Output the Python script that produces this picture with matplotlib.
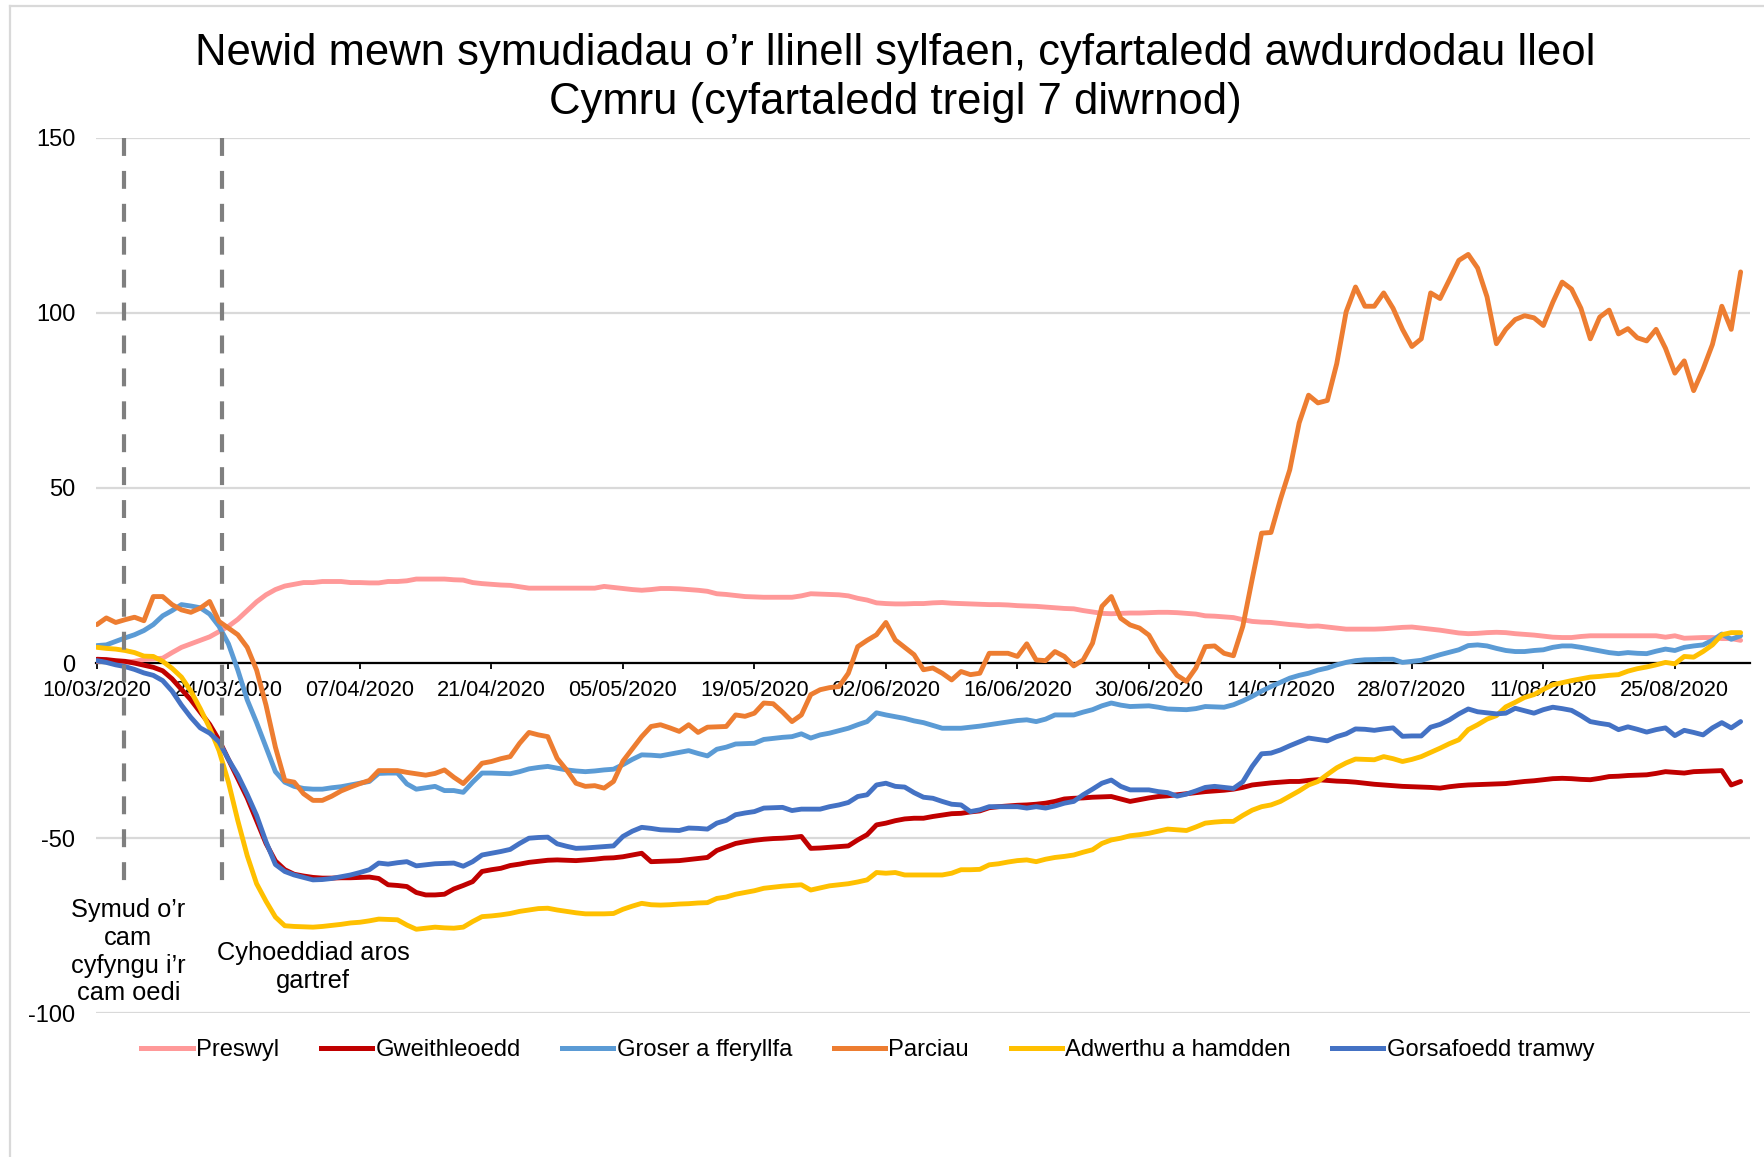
import pandas as pd
import matplotlib
matplotlib.use('Agg')
import matplotlib.pyplot as plt
import matplotlib.dates as mdates
from matplotlib.lines import Line2D

plt.rcParams['font.family'] = ['Liberation Sans', 'DejaVu Sans']
plt.rcParams['axes.unicode_minus'] = False

# ---------------- data ----------------
start_date = '2020-03-10'
n_days = 176
dates = pd.date_range(start_date, periods=n_days, freq='D')

series_names = ['Preswyl', 'Gweithleoedd', 'Groser a fferyllfa', 'Parciau',
                'Adwerthu a hamdden', 'Gorsafoedd tramwy']

preswyl = [
    0.5, 0.5, 0.3, 0.3, 0.5, 1.0, 1.2, 1.4, 3.0, 4.5,
    5.5, 6.5, 7.5, 9.0, 10.5, 12.5, 15.0, 17.5, 19.5, 21.0,
    22.0, 22.5, 23.0, 23.0, 23.3, 23.3, 23.3, 23.0, 23.0, 22.9,
    22.9, 23.3, 23.3, 23.5, 24.0, 24.0, 24.0, 24.0, 23.8, 23.7,
    23.0, 22.7, 22.5, 22.3, 22.2, 21.8, 21.4, 21.4, 21.4, 21.4,
    21.4, 21.4, 21.4, 21.4, 21.9, 21.6, 21.3, 21.0, 20.8, 21.0,
    21.3, 21.3, 21.2, 21.0, 20.8, 20.5, 19.8, 19.6, 19.3, 19.0,
    18.9, 18.8, 18.8, 18.8, 18.8, 19.2, 19.8, 19.7, 19.6, 19.5,
    19.2, 18.5, 18.0, 17.2, 17.0, 16.9, 16.9, 17.0, 17.0, 17.2,
    17.3, 17.1, 17.0, 16.9, 16.8, 16.7, 16.7, 16.6, 16.4, 16.3,
    16.2, 16.0, 15.8, 15.6, 15.5, 15.0, 14.6, 14.2, 14.1, 14.2,
    14.3, 14.3, 14.4, 14.5, 14.5, 14.4, 14.2, 14.0, 13.5, 13.4,
    13.2, 13.0, 12.4, 11.9, 11.7, 11.6, 11.3, 11.0, 10.8, 10.5,
    10.6, 10.3, 10.0, 9.7, 9.7, 9.7, 9.7, 9.8, 10.0, 10.2,
    10.3, 10.0, 9.7, 9.4, 9.0, 8.6, 8.4, 8.5, 8.7, 8.8,
    8.7, 8.4, 8.2, 8.0, 7.7, 7.4, 7.3, 7.3, 7.6, 7.8,
    7.8, 7.8, 7.8, 7.8, 7.8, 7.8, 7.8, 7.4, 7.8, 7.1,
    7.2, 7.3, 7.3, 7.0, 7.0, 6.5]

gweithleoedd = [
    1.1, 1.0, 0.7, 0.5, 0.0, -0.6, -1.2, -2.2, -4.5, -7.5,
    -10.5, -14.0, -17.5, -22.0, -27.5, -33.0, -38.5, -45.0, -51.5, -56.5,
    -59.0, -60.3, -60.8, -61.2, -61.4, -61.4, -61.3, -61.3, -61.2, -61.1,
    -61.5, -63.3, -63.5, -63.8, -65.5, -66.2, -66.2, -66.0, -64.5, -63.5,
    -62.4, -59.5, -59.0, -58.6, -57.8, -57.4, -56.9, -56.6, -56.3, -56.2,
    -56.3, -56.4, -56.2, -56.0, -55.7, -55.6, -55.3, -54.8, -54.3, -56.7,
    -56.6, -56.5, -56.4, -56.1, -55.8, -55.5, -53.5, -52.5, -51.5, -51.0,
    -50.6, -50.3, -50.1, -50.0, -49.8, -49.5, -52.9, -52.8, -52.6, -52.4,
    -52.2, -50.5, -49.0, -46.2, -45.7, -45.0, -44.5, -44.3, -44.3, -43.8,
    -43.4, -43.0, -42.9, -42.5, -42.2, -41.3, -41.0, -40.8, -40.6, -40.5,
    -40.3, -40.0, -39.5, -38.8, -38.6, -38.5, -38.3, -38.2, -38.1, -38.8,
    -39.5, -39.0, -38.5, -38.1, -37.9, -37.6, -37.3, -37.0, -36.7, -36.5,
    -36.3, -36.0, -35.5, -34.8, -34.5, -34.2, -34.0, -33.8, -33.8, -33.5,
    -33.3, -33.5, -33.7, -33.8, -34.0, -34.3, -34.6, -34.8, -35.0, -35.2,
    -35.3, -35.4, -35.5, -35.7, -35.3, -35.0, -34.8, -34.7, -34.6, -34.5,
    -34.4, -34.1, -33.8, -33.6, -33.3, -33.0, -32.9, -33.0, -33.2, -33.3,
    -32.9, -32.4, -32.3, -32.1, -32.0, -31.9, -31.5, -31.0, -31.2, -31.4,
    -31.0, -30.9, -30.8, -30.7, -34.8, -33.8]

groser = [
    5.0, 5.2, 6.2, 7.2, 8.1, 9.3, 11.0, 13.5, 15.0, 16.7,
    16.3, 15.8, 14.0, 10.5, 5.5, -2.0, -10.5, -17.0, -24.0, -31.0,
    -34.0, -35.2, -35.8, -36.0, -36.0, -35.6, -35.3, -34.8, -34.3, -33.8,
    -31.5, -31.4, -31.4, -34.5, -36.0, -35.6, -35.2, -36.4, -36.4, -36.9,
    -34.0, -31.4, -31.4, -31.5, -31.6, -31.0, -30.2, -29.8, -29.5, -30.0,
    -30.5, -30.8, -31.0, -30.8, -30.5, -30.3, -29.0, -27.5, -26.2, -26.3,
    -26.5, -26.0, -25.5, -25.0, -25.8, -26.5, -24.6, -24.0, -23.1, -23.0,
    -22.9, -21.8, -21.5, -21.2, -21.0, -20.2, -21.4, -20.5, -20.0, -19.3,
    -18.6, -17.6, -16.7, -14.2, -14.8, -15.3, -15.8, -16.5, -17.0, -17.8,
    -18.6, -18.6, -18.6, -18.3, -18.0, -17.6, -17.2, -16.8, -16.4, -16.2,
    -16.7, -16.0, -14.8, -14.8, -14.8, -14.0, -13.3, -12.2, -11.4, -12.0,
    -12.4, -12.3, -12.2, -12.6, -13.1, -13.2, -13.3, -13.0, -12.4, -12.5,
    -12.6, -11.9, -10.8, -9.5, -8.0, -6.7, -5.5, -4.3, -3.5, -2.9,
    -2.0, -1.4, -0.5, 0.2, 0.7, 0.95, 1.0, 1.1, 1.1, 0.2,
    0.5, 0.8, 1.6, 2.4, 3.1, 3.8, 5.0, 5.2, 4.9, 4.2,
    3.6, 3.3, 3.3, 3.6, 3.8, 4.5, 4.9, 4.9, 4.5, 4.0,
    3.5, 3.0, 2.7, 3.0, 2.8, 2.7, 3.4, 4.0, 3.6, 4.5,
    4.9, 5.2, 6.5, 8.3, 6.8, 7.8]

parciau = [
    11.0, 12.9, 11.6, 12.4, 13.1, 12.1, 19.0, 19.0, 16.7, 15.2,
    14.5, 15.7, 17.6, 11.9, 10.0, 8.1, 4.5, -2.0, -12.0, -24.0,
    -33.5, -34.0, -37.3, -39.2, -39.2, -38.0, -36.5, -35.4, -34.4, -33.5,
    -30.7, -30.7, -30.7, -31.2, -31.6, -32.0, -31.5, -30.5, -32.6, -34.4,
    -31.6, -28.6, -28.1, -27.3, -26.7, -22.9, -19.8, -20.5, -21.0, -27.2,
    -30.5, -34.3, -35.2, -35.0, -35.7, -33.8, -28.0, -24.5, -21.0, -18.1,
    -17.6, -18.5, -19.5, -17.6, -19.8, -18.3, -18.2, -18.1, -14.8, -15.2,
    -14.3, -11.4, -11.6, -14.0, -16.7, -14.8, -9.0, -7.6, -7.0, -6.7,
    -2.9, 4.7, 6.5, 8.1, 11.6, 6.6, 4.5, 2.4, -1.9, -1.4,
    -2.9, -4.8, -2.4, -3.3, -2.9, 2.8, 2.8, 2.8, 1.9, 5.5,
    0.9, 0.7, 3.3, 1.9, -0.8, 0.9, 5.7, 16.2, 19.0, 12.8,
    10.9, 10.0, 8.0, 3.3, 0.0, -3.5, -5.2, -1.4, 4.7, 4.9,
    2.8, 2.1, 10.5, 24.0, 37.1, 37.3, 46.7, 55.2, 68.6, 76.5,
    74.3, 75.0, 85.5, 100.3, 107.4, 101.9, 101.9, 105.7, 101.3, 95.3,
    90.4, 92.6, 105.7, 104.1, 109.5, 115.0, 116.7, 112.8, 104.6, 91.2,
    95.3, 98.1, 99.2, 98.6, 96.4, 103.0, 108.8, 106.8, 101.3, 92.6,
    98.8, 100.8, 94.0, 95.5, 92.9, 92.0, 95.3, 89.9, 82.8, 86.3,
    77.8, 83.9, 91.0, 101.9, 95.3, 111.7]

adwerthu = [
    4.5, 4.2, 4.0, 3.6, 3.0, 2.0, 1.9, 0.5, -1.5, -4.0,
    -8.0, -13.0, -18.5, -25.0, -34.0, -45.0, -55.0, -63.0, -68.0, -72.5,
    -75.0, -75.2, -75.3, -75.4, -75.2, -74.9, -74.6, -74.2, -74.0, -73.6,
    -73.1, -73.2, -73.3, -74.8, -76.0, -75.7, -75.4, -75.6, -75.7, -75.4,
    -73.8, -72.4, -72.2, -71.9, -71.5, -70.9, -70.5, -70.1, -70.0, -70.5,
    -70.9, -71.3, -71.6, -71.6, -71.6, -71.5, -70.3, -69.4, -68.6, -69.0,
    -69.1, -69.0, -68.8, -68.7, -68.5, -68.4, -67.2, -66.8, -66.0, -65.5,
    -65.0, -64.3, -64.0, -63.7, -63.5, -63.3, -64.8, -64.2, -63.6, -63.3,
    -63.0, -62.5, -61.9, -59.8, -60.0, -59.8, -60.5, -60.5, -60.5, -60.5,
    -60.5, -60.0, -59.0, -59.0, -58.9, -57.6, -57.3, -56.8, -56.4, -56.2,
    -56.7, -56.0, -55.5, -55.2, -54.8, -54.0, -53.3, -51.5, -50.5, -50.0,
    -49.3, -49.0, -48.6, -48.0, -47.4, -47.6, -47.8, -46.8, -45.7, -45.4,
    -45.2, -45.2, -43.5, -42.0, -41.0, -40.5, -39.5, -38.0, -36.5, -34.8,
    -33.8, -31.8, -29.9, -28.5, -27.4, -27.5, -27.6, -26.7, -27.3, -28.1,
    -27.5, -26.7, -25.5, -24.3, -23.0, -21.9, -19.0, -17.6, -16.0, -15.0,
    -12.5, -11.2, -9.8, -9.0, -7.5, -6.2, -5.6, -5.0, -4.5, -4.0,
    -3.8, -3.5, -3.3, -2.3, -1.6, -1.1, -0.5, 0.2, -0.2, 1.9,
    1.7, 3.3, 5.2, 8.1, 8.7, 8.7]

gorsafoedd = [
    0.7, 0.2, -0.5, -1.0, -1.8, -2.8, -3.5, -5.0, -8.0, -12.0,
    -15.5, -18.5, -20.0, -22.5, -27.5, -32.0, -37.5, -43.5, -51.0, -57.5,
    -59.5, -60.5, -61.2, -61.9, -61.8, -61.5, -61.0, -60.5, -59.8, -59.0,
    -57.1, -57.4, -57.0, -56.7, -57.9, -57.6, -57.3, -57.2, -57.1, -58.0,
    -56.7, -54.8, -54.3, -53.8, -53.2, -51.5, -50.0, -49.8, -49.7, -51.6,
    -52.3, -52.9, -52.8, -52.6, -52.4, -52.2, -49.5, -48.0, -46.9, -47.2,
    -47.6, -47.7, -47.8, -47.1, -47.2, -47.4, -45.7, -44.9, -43.3, -42.8,
    -42.4, -41.4, -41.3, -41.2, -42.1, -41.7, -41.7, -41.7, -41.0, -40.5,
    -39.8, -38.1, -37.6, -34.8, -34.3, -35.2, -35.4, -37.0, -38.3, -38.6,
    -39.5, -40.3, -40.5, -42.4, -41.9, -41.0, -41.0, -41.0, -41.0, -41.4,
    -41.0, -41.4, -40.8, -40.0, -39.5, -37.6, -36.0, -34.3, -33.4, -35.2,
    -36.2, -36.2, -36.2, -36.7, -37.0, -38.0, -37.4, -36.5, -35.5, -35.2,
    -35.5, -35.8, -33.9, -29.5, -25.9, -25.7, -24.8, -23.6, -22.5, -21.4,
    -21.8, -22.2, -21.0, -20.2, -18.8, -18.9, -19.2, -18.8, -18.5, -20.9,
    -20.8, -20.8, -18.3, -17.5, -16.2, -14.5, -13.1, -13.9, -14.2, -14.5,
    -14.3, -12.9, -13.6, -14.3, -13.3, -12.6, -13.0, -13.5, -15.0, -16.7,
    -17.2, -17.6, -19.0, -18.2, -18.9, -19.7, -19.0, -18.5, -20.7, -19.2,
    -19.8, -20.5, -18.5, -17.0, -18.5, -16.7]

tick_dates = pd.date_range('2020-03-10', '2020-08-25', freq='14D')
y_ticks = [150, 100, 50, 0, -50, -100]

title_line1 = 'Newid mewn symudiadau o\u2019r llinell sylfaen, cyfartaledd awdurdodau lleol'
title_line2 = 'Cymru (cyfartaledd treigl 7 diwrnod)'
event1_label = 'Symud o\u2019r\ncam\ncyfyngu i\u2019r\ncam oedi'
event2_label = 'Cyhoeddiad aros\ngartref'
event1_date = pd.Timestamp('2020-03-10') + pd.Timedelta(days=2.9)
event2_date = pd.Timestamp('2020-03-10') + pd.Timedelta(days=13.3)

colors = ['#FF9999', '#C00000', '#5B9BD5', '#ED7D31', '#FFC000', '#4472C4']
all_series = [preswyl, gweithleoedd, groser, parciau, adwerthu, gorsafoedd]

# ---------------- figure ----------------
W, H = 1765, 1157
fig = plt.figure(figsize=(W / 100, H / 100), dpi=100)
ax = fig.add_axes([96 / W, 1 - 1013.3 / H, (1750 - 96) / W, (1013.3 - 137.8) / H])

for name, vals, col in zip(series_names, all_series, colors):
    ax.plot(dates, vals, color=col, lw=3.5, label=name, zorder=3,
            solid_joinstyle='round', solid_capstyle='round')

# event lines
ax.plot([event1_date, event1_date], [150, -66.2], color='#7F7F7F', lw=3,
        dashes=(4.3, 3.6), zorder=4)
ax.plot([event2_date, event2_date], [150, -63.9], color='#7F7F7F', lw=3,
        dashes=(4.3, 3.6), zorder=4)

ax.set_ylim(-100, 150)
ax.set_xlim(pd.Timestamp(start_date) - pd.Timedelta(days=0.1),
            pd.Timestamp(start_date) + pd.Timedelta(days=176))
ax.set_yticks(y_ticks)
ax.set_yticklabels([str(v) for v in y_ticks])
ax.set_xticks(tick_dates)
ax.xaxis.set_major_formatter(mdates.DateFormatter('%d/%m/%Y'))

ax.spines['top'].set_visible(False)
ax.spines['right'].set_visible(False)
ax.spines['left'].set_visible(False)
ax.spines['bottom'].set_position(('data', 0))
ax.spines['bottom'].set_linewidth(1.6)
ax.spines['bottom'].set_zorder(2.5)

ax.yaxis.grid(True, color='#D9D9D9', lw=1.6)
ax.set_axisbelow(True)
ax.tick_params(axis='y', length=0, labelsize=17, pad=15, colors='black')
ax.tick_params(axis='x', direction='out', length=4, width=1.3,
               labelsize=15.7, pad=8, colors='black')

# titles
fig.text(895 / W, 1 - 65.3 / H, title_line1, ha='center', va='baseline',
         fontsize=31.4, color='black')
fig.text(895 / W, 1 - 113.7 / H, title_line2, ha='center', va='baseline',
         fontsize=31.4, color='black')

# annotations
fig.text(128.3 / W, 1 - 898 / H, event1_label, ha='center', va='top',
         fontsize=18.3, linespacing=1.2, color='black')
fig.text(313.3 / W, 1 - 941 / H, event2_label, ha='center', va='top',
         fontsize=18.3, linespacing=1.2, color='black')

# legend
handles = [Line2D([0], [0], color=c, lw=3.6) for c in colors]
fig.legend(handles, series_names, loc='center', bbox_to_anchor=(868 / W, 1 - 1050 / H),
           ncol=6, frameon=False, fontsize=17.1, handlelength=2.15,
           handletextpad=0.15, columnspacing=1.75)

# chart-area border (left and top edges visible)
fig.add_artist(Line2D([10 / W, 10 / W], [0, 1 - 5.5 / H], transform=fig.transFigure,
                      color='#D9D9D9', lw=1.6))
fig.add_artist(Line2D([10 / W, 1], [1 - 5.5 / H, 1 - 5.5 / H], transform=fig.transFigure,
                      color='#D9D9D9', lw=1.6))

fig.savefig('out.png', dpi=100)
